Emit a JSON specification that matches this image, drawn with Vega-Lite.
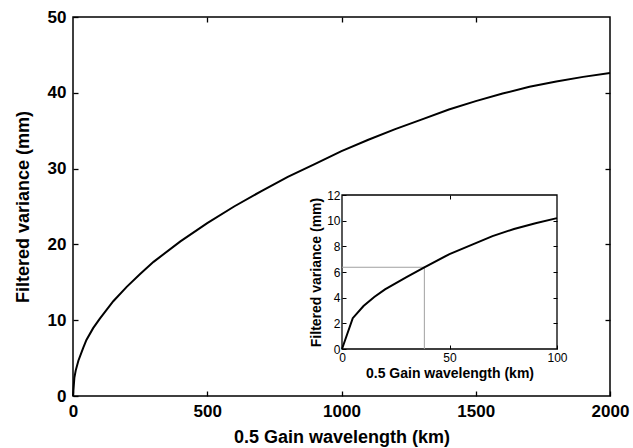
{
  "$schema": "https://vega.github.io/schema/vega-lite/v6.json",
  "width": 537,
  "height": 379,
  "autosize": {"type": "none"},
  "padding": {"left": 73, "top": 17, "right": 23, "bottom": 52},
  "background": "white",
  "config": {
    "view": {"stroke": "black", "strokeWidth": 1.5},
    "font": "Liberation Sans",
    "axis": {"grid": false, "labelColor": "black", "titleColor": "black", "tickColor": "black", "domainColor": "black"}
  },
  "datasets": {
    "main": [
      {"km": 0, "v": 0}, {"km": 5, "v": 2.4}, {"km": 10, "v": 3.35}, {"km": 20, "v": 4.65},
      {"km": 38, "v": 6.35}, {"km": 50, "v": 7.4}, {"km": 75, "v": 8.95}, {"km": 100, "v": 10.2},
      {"km": 150, "v": 12.5}, {"km": 200, "v": 14.4}, {"km": 250, "v": 16.1}, {"km": 300, "v": 17.7},
      {"km": 400, "v": 20.4}, {"km": 500, "v": 22.8}, {"km": 600, "v": 25.0}, {"km": 700, "v": 27.0},
      {"km": 800, "v": 28.9}, {"km": 900, "v": 30.6}, {"km": 1000, "v": 32.3}, {"km": 1100, "v": 33.8},
      {"km": 1200, "v": 35.2}, {"km": 1300, "v": 36.5}, {"km": 1400, "v": 37.8}, {"km": 1500, "v": 38.9},
      {"km": 1600, "v": 39.9}, {"km": 1700, "v": 40.8}, {"km": 1800, "v": 41.5}, {"km": 1900, "v": 42.1},
      {"km": 2000, "v": 42.6}
    ],
    "inset": [
      {"km": 0, "v": 0}, {"km": 5, "v": 2.4}, {"km": 10, "v": 3.35}, {"km": 15, "v": 4.05},
      {"km": 20, "v": 4.65}, {"km": 30, "v": 5.6}, {"km": 38.3, "v": 6.37}, {"km": 50, "v": 7.4},
      {"km": 60, "v": 8.1}, {"km": 70, "v": 8.8}, {"km": 80, "v": 9.35}, {"km": 90, "v": 9.8},
      {"km": 100, "v": 10.2}
    ],
    "ref": [
      {"km": 0, "km2": 38.3, "v": 6.37, "v2": 6.37},
      {"km": 38.3, "km2": 38.3, "v": 0, "v2": 6.37}
    ],
    "frame": [{"km": 0, "km2": 100, "v": 0, "v2": 12}]
  },
  "layer": [
    {
      "data": {"name": "main"},
      "mark": {"type": "line", "color": "black", "strokeWidth": 2},
      "encoding": {
        "x": {
          "field": "km", "type": "quantitative",
          "scale": {"domain": [0, 2000], "nice": false},
          "axis": {
            "orient": "bottom", "values": [0, 500, 1000, 1500, 2000], "domain": false, "format": "d",
            "tickSize": -5, "tickWidth": 1.3, "labelPadding": 12,
            "labelFontSize": 17, "labelFontWeight": "bold", "labelFlush": false,
            "title": "0.5 Gain wavelength (km)", "titleFontSize": 18, "titleFontWeight": "bold", "titlePadding": 9
          }
        },
        "y": {
          "field": "v", "type": "quantitative",
          "scale": {"domain": [0, 50], "nice": false},
          "axis": {
            "orient": "left", "values": [0, 10, 20, 30, 40, 50], "domain": false,
            "tickSize": -5, "tickWidth": 1.3, "labelPadding": 12,
            "labelFontSize": 17, "labelFontWeight": "bold", "labelFlush": false,
            "title": "Filtered variance (mm)", "titleFontSize": 18, "titleFontWeight": "bold", "titlePadding": 15
          }
        }
      }
    },
    {
      "data": {"name": "main"},
      "mark": {"type": "line", "strokeOpacity": 0},
      "encoding": {
        "x": {
          "field": "km", "type": "quantitative",
          "scale": {"domain": [0, 2000], "nice": false},
          "axis": {"orient": "top", "values": [500, 1000, 1500], "domain": false, "labels": false, "tickSize": -5, "tickWidth": 1.3, "title": null}
        },
        "y": {
          "field": "v", "type": "quantitative",
          "scale": {"domain": [0, 50], "nice": false},
          "axis": {"orient": "right", "values": [10, 20, 30, 40], "domain": false, "labels": false, "tickSize": -5, "tickWidth": 1.3, "title": null}
        }
      }
    },
    {
      "encoding": {
        "x": {
          "field": "km", "type": "quantitative",
          "scale": {"domain": [0, 100], "nice": false, "range": [269, 484]},
          "axis": {
            "orient": "bottom", "offset": -47, "values": [0, 50, 100], "domain": false,
            "tickSize": -4, "tickWidth": 1, "labelPadding": 7,
            "labelFontSize": 12, "labelFlush": false,
            "title": "0.5 Gain wavelength (km)", "titleFontSize": 14, "titleFontWeight": "bold", "titlePadding": 3
          }
        },
        "y": {
          "field": "v", "type": "quantitative",
          "scale": {"domain": [0, 12], "nice": false, "range": [332, 178]},
          "axis": {
            "orient": "left", "offset": -269, "values": [0, 2, 4, 6, 8, 10, 12], "domain": false,
            "tickSize": -4, "tickWidth": 1, "labelPadding": 6,
            "labelFontSize": 12, "labelFlush": false,
            "title": "Filtered variance (mm)", "titleFontSize": 14, "titleFontWeight": "bold", "titlePadding": 3
          }
        }
      },
      "layer": [
        {
          "data": {"name": "frame"},
          "mark": {"type": "rect", "fillOpacity": 0, "stroke": "black", "strokeWidth": 1.3},
          "encoding": {"x2": {"field": "km2"}, "y2": {"field": "v2"}}
        },
        {
          "data": {"name": "ref"},
          "mark": {"type": "rule", "color": "#a0a0a0", "strokeWidth": 1},
          "encoding": {"x2": {"field": "km2"}, "y2": {"field": "v2"}}
        },
        {
          "data": {"name": "inset"},
          "mark": {"type": "line", "color": "black", "strokeWidth": 2},
          "encoding": {}
        }
      ]
    },
    {
      "data": {"name": "inset"},
      "mark": {"type": "line", "strokeOpacity": 0},
      "encoding": {
        "x": {
          "field": "km", "type": "quantitative",
          "scale": {"domain": [0, 100], "nice": false, "range": [269, 484]},
          "axis": {"orient": "top", "offset": -178, "values": [50], "domain": false, "labels": false, "tickSize": -4, "tickWidth": 1, "title": null}
        },
        "y": {
          "field": "v", "type": "quantitative",
          "scale": {"domain": [0, 12], "nice": false, "range": [332, 178]},
          "axis": {"orient": "right", "offset": -53, "values": [2, 4, 6, 8, 10], "domain": false, "labels": false, "tickSize": -4, "tickWidth": 1, "title": null}
        }
      }
    }
  ],
  "resolve": {
    "scale": {"x": "independent", "y": "independent"},
    "axis": {"x": "independent", "y": "independent"}
  }
}
